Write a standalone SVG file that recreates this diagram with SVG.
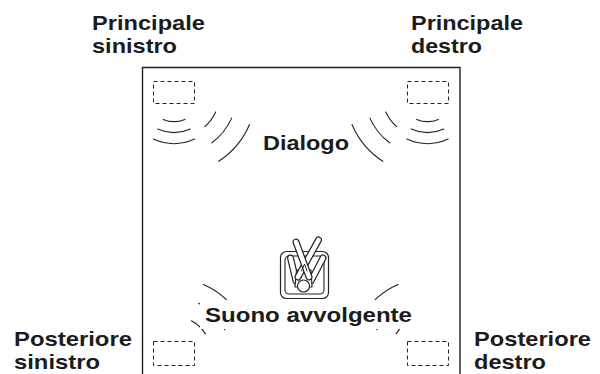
<svg xmlns="http://www.w3.org/2000/svg" width="600" height="374" viewBox="0 0 600 374">
  <style>
    .lbl { font-family: "Liberation Sans", Arial, Helvetica, sans-serif; font-weight: bold; font-size: 20.5px; fill: #1c1c1c; }
    .spk { fill: none; stroke: #222; stroke-width: 1; stroke-dasharray: 4 3; }
    .wave { fill: none; stroke: #222; stroke-width: 1.1; stroke-linecap: round; }
    .wall { fill: none; stroke: #222; stroke-width: 1.4; }
    .ol { fill: none; stroke: #222; stroke-linecap: round; stroke-linejoin: round; }
    .band-o { fill: none; stroke: #222; stroke-width: 7; stroke-linecap: round; }
    .band-i { fill: none; stroke: #fff; stroke-width: 4.6; stroke-linecap: round; }
  </style>

  <rect width="600" height="374" fill="#fff"/>

  <!-- room outline, open at the bottom -->
  <g id="room">
    <path class="wall" d="M142.5,374 V67.5 H460 V374"/>
  </g>

  <!-- sound waves -->
  <g id="connectors">
    <!-- front left -->
    <path class="wave" d="M184.9,119.4 A29,29 0 0 1 163.1,119.4"/>
    <path class="wave" d="M190.3,129 A40,40 0 0 1 157.7,129"/>
    <path class="wave" d="M194.7,139.1 A51,51 0 0 1 153.3,139.1"/>
    <path class="wave" d="M215.7,111.9 A46,46 0 0 1 204.8,126.7"/>
    <path class="wave" d="M231.6,118.1 A63,63 0 0 1 211.9,142.8"/>
    <path class="wave" d="M249.5,124.5 A82,82 0 0 1 218.7,161.3"/>
    <!-- front right -->
    <path class="wave" d="M438.4,119.4 A29,29 0 0 1 416.6,119.4"/>
    <path class="wave" d="M443.8,129 A40,40 0 0 1 411.2,129"/>
    <path class="wave" d="M448.2,139.1 A51,51 0 0 1 406.8,139.1"/>
    <path class="wave" d="M385.8,111.9 A46,46 0 0 0 396.7,126.7"/>
    <path class="wave" d="M369.9,118.1 A63,63 0 0 0 389.6,142.8"/>
    <path class="wave" d="M352,124.5 A82,82 0 0 0 382.8,161.3"/>
    <!-- rear left -->
    <path class="wave" d="M203.3,284.5 A75,75 0 0 1 238.9,316"/>
    <path class="wave" d="M198.6,303.2 A56,56 0 0 1 224.8,329.8"/>
    <path class="wave" d="M191.4,320.8 A37,37 0 0 1 205.4,333.9"/>
    <!-- rear right -->
    <path class="wave" d="M398.2,284.5 A75,75 0 0 0 362.6,316"/>
    <path class="wave" d="M402.9,303.2 A56,56 0 0 0 376.7,329.8"/>
    <path class="wave" d="M410.1,320.8 A37,37 0 0 0 396.1,333.9"/>
  </g>

  <!-- speakers -->
  <g id="front-left">
    <rect class="spk" x="153.5" y="81.5" width="41" height="22"/>
    <text class="lbl" x="92" y="30" textLength="113" lengthAdjust="spacingAndGlyphs">Principale</text>
    <text class="lbl" x="92" y="53" textLength="85" lengthAdjust="spacingAndGlyphs">sinistro</text>
  </g>
  <g id="front-right">
    <rect class="spk" x="407.5" y="81.5" width="41" height="22"/>
    <text class="lbl" x="411" y="30" textLength="112" lengthAdjust="spacingAndGlyphs">Principale</text>
    <text class="lbl" x="411" y="53" textLength="71" lengthAdjust="spacingAndGlyphs">destro</text>
  </g>
  <g id="rear-left">
    <rect class="spk" x="153.5" y="341.5" width="41" height="24"/>
    <text class="lbl" x="14" y="346" textLength="118" lengthAdjust="spacingAndGlyphs">Posteriore</text>
    <text class="lbl" x="14" y="369" textLength="86" lengthAdjust="spacingAndGlyphs">sinistro</text>
  </g>
  <g id="rear-right">
    <rect class="spk" x="407.5" y="341.5" width="41" height="24"/>
    <text class="lbl" x="474" y="346" textLength="117" lengthAdjust="spacingAndGlyphs">Posteriore</text>
    <text class="lbl" x="474" y="369" textLength="72" lengthAdjust="spacingAndGlyphs">destro</text>
  </g>

  <g id="dialogue">
    <text class="lbl" x="263" y="150" textLength="86" lengthAdjust="spacingAndGlyphs">Dialogo</text>
  </g>

  <g id="surround">
    <rect x="200" y="300" width="216" height="29" fill="#fff"/>
    <text class="lbl" x="205" y="322" textLength="207" lengthAdjust="spacingAndGlyphs">Suono avvolgente</text>
  </g>

  <!-- listener seated in a chair, seen from above -->
  <g id="listener">
    <rect x="280.5" y="251.5" width="48" height="47" rx="6" fill="#fff" stroke="#222" stroke-width="1.2"/>
    <rect x="285" y="256" width="39" height="38" rx="4" fill="none" stroke="#222" stroke-width="1.1"/>
    <!-- arms -->
    <path class="band-o" d="M296,281 L290.5,258"/>
    <path class="band-i" d="M296,281 L290.5,258"/>
    <path class="band-o" d="M311,281 L323,258"/>
    <path class="band-i" d="M311,281 L323,258"/>
    <!-- torso -->
    <path d="M295,287 L296.5,270 L311,270 L312,287 Z" fill="#fff" stroke="#222" stroke-width="1.1"/>
    <!-- crossed legs -->
    <path class="band-o" d="M298,277 L318.5,240"/>
    <path class="band-i" d="M298,277 L318.5,240"/>
    <path class="band-o" d="M309,277 L296,242"/>
    <path class="band-i" d="M309,277 L296,242"/>
    <path class="ol" stroke-width="1" d="M301.5,271 L304.5,264 L307,271"/>
    <!-- head -->
    <circle cx="303.5" cy="286" r="6" fill="#fff" stroke="#222" stroke-width="1.1"/>
  </g>
</svg>
